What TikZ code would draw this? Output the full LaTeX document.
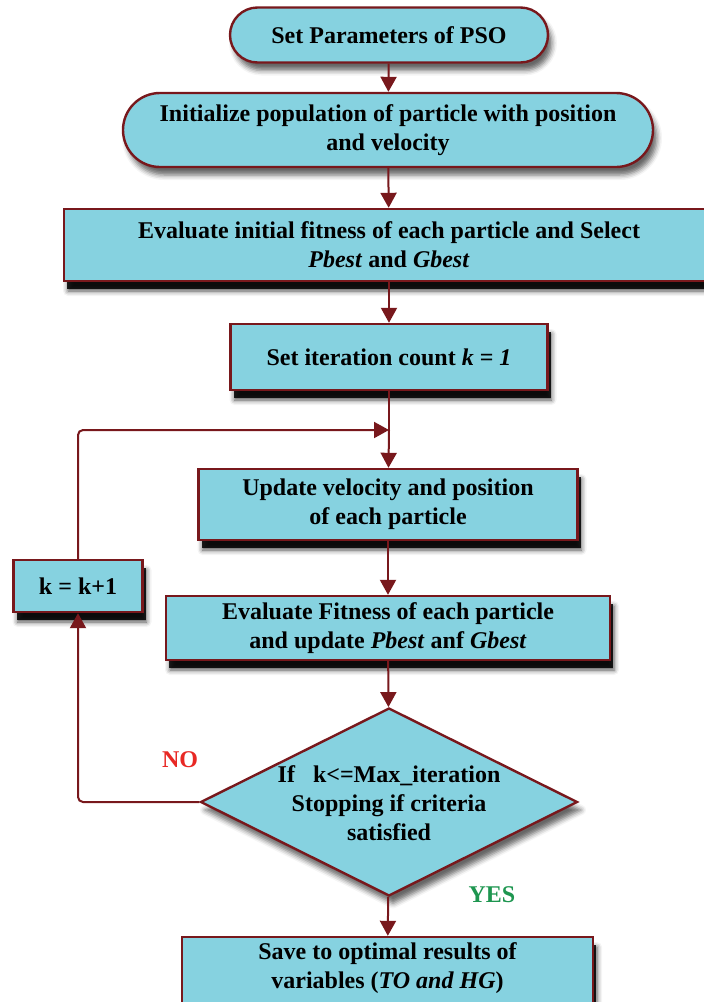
\documentclass[tikz,border=0pt]{standalone}
\usepackage{fontspec}
\setmainfont{Liberation Serif}
\usetikzlibrary{arrows.meta,shapes.geometric,shadows,shadows.blur}
\definecolor{boxfill}{RGB}{134,210,224}
\definecolor{edgered}{RGB}{120,24,28}
\definecolor{nored}{RGB}{232,40,36}
\definecolor{yesgreen}{RGB}{30,150,80}
\begin{document}
\begin{tikzpicture}[x=1pt,y=-1pt,
  lbl/.style={font=\bfseries\fontsize{24}{29}\selectfont, align=center, inner sep=0pt},
  base/.style={lbl, draw=edgered, line width=2.4pt, fill=boxfill},
  softshadow/.style={blur shadow={shadow xshift=4pt, shadow yshift=-8pt, shadow blur radius=5pt, shadow opacity=60}},
  hardshadow/.style={blur shadow={shadow xshift=4pt, shadow yshift=-10pt, shadow blur radius=5pt, shadow opacity=70},
    drop shadow={shadow xshift=3pt, shadow yshift=-8pt, fill=black, opacity=0.85}},
  pill/.style={base, softshadow, rectangle, rounded corners=#1},
  rect/.style={base, hardshadow, rectangle},
  dia/.style={base, softshadow, diamond, inner sep=0pt},
  conn/.style={draw=edgered, line width=2pt},
  arr/.style={conn, -{Triangle[length=15pt,width=16pt]}}
]
\useasboundingbox (0,0) rectangle (704,1002);

\node[pill=27.5pt, minimum width=318pt, minimum height=55pt] (b1) at (389,35) {Set Parameters of PSO};
\node[pill=37pt, minimum width=530pt, minimum height=74pt] (b2) at (388,130) {Initialize population of particle with position\\and velocity};
\node[rect, minimum width=650pt, minimum height=72pt] (b3) at (389,245) {Evaluate initial fitness of each particle and Select\\\textit{Pbest} and \textit{Gbest}};
\node[rect, minimum width=317pt, minimum height=66pt] (b4) at (389,357) {Set iteration count \textit{k} = \textit{1}};
\node[rect, minimum width=379pt, minimum height=71pt] (b5) at (388,504.5) {Update velocity and position\\of each particle};
\node[rect, minimum width=129pt, minimum height=52pt] (bk) at (78,586) {k = k+1};
\node[rect, minimum width=444pt, minimum height=64pt] (b6) at (388,628) {Evaluate Fitness of each particle\\and update \textit{Pbest} anf \textit{Gbest}};
\node[dia, minimum width=377pt, minimum height=188pt] (d) at (389,802) {};
\node[lbl] (dt) at (389,803) {If\ \ \ k<=Max\_iteration\\Stopping if criteria\\satisfied};
\node[rect, minimum width=411pt, minimum height=70pt] (b7) at (387.5,972) {};
\node[lbl] (b7t) at (387.5,968) {Save to optimal results of\\variables (\textit{TO and HG})};

\node[lbl, text=nored] (no) at (180,760) {NO};
\node[lbl, text=yesgreen] (yes) at (492,895) {YES};

\coordinate (j) at (389,430);
\coordinate (c1) at (78,802);
\coordinate (c2) at (78,430);

\draw[arr] (b1) -- (b2);
\draw[arr] (b2) -- (b3);
\draw[arr] (b3) -- (b4);
\draw[conn] (b4) -- (j);
\draw[arr] (j) -- (b5);
\draw[arr] (b5) -- (b6);
\draw[arr] (b6) -- (d);
\draw[arr] (d) -- (b7);
\draw[arr, rounded corners=5pt] (d.west) -- (c1) -- (bk.south);
\draw[arr, rounded corners=5pt] (bk.north) -- (c2) -- (j);
\end{tikzpicture}
\end{document}
